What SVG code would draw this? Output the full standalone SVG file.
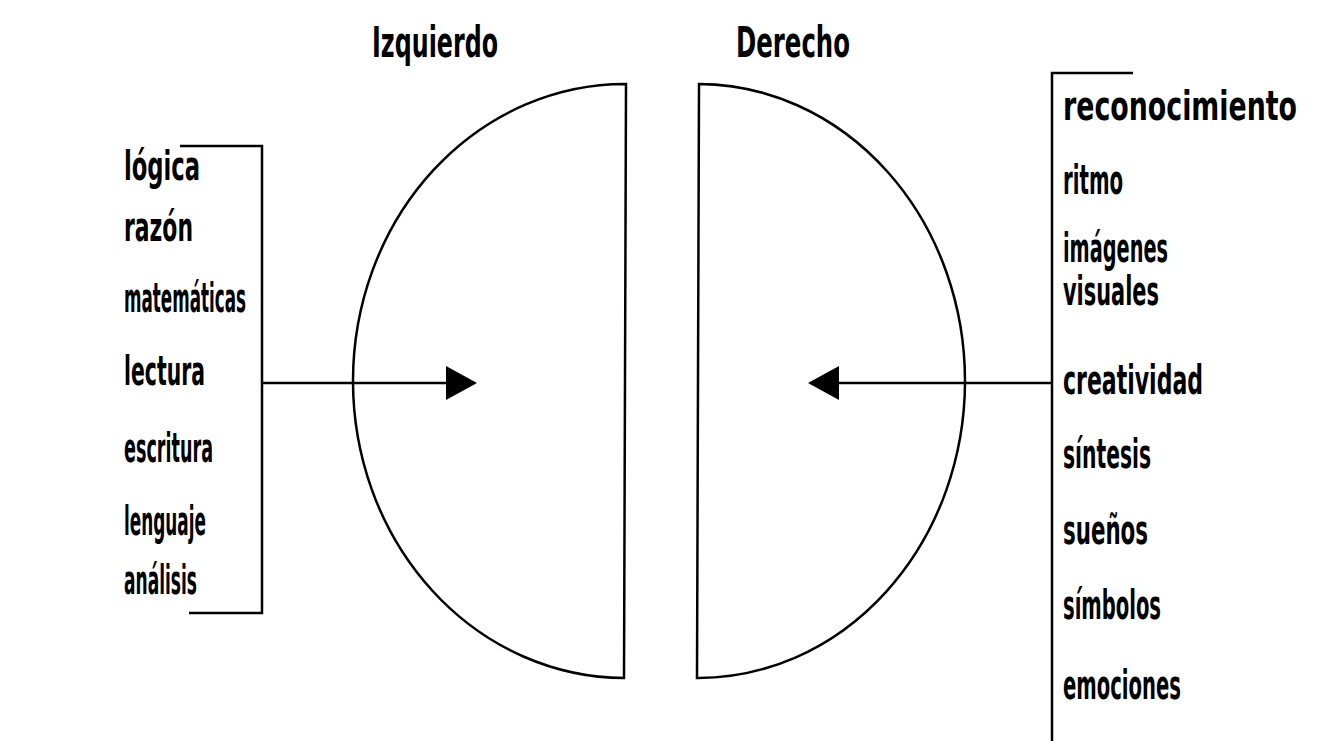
<svg xmlns="http://www.w3.org/2000/svg" width="1321" height="741" viewBox="0 0 1321 741">
<style>
.ln{fill:none;stroke:#000;stroke-width:2.5}
.t{font-family:"DejaVu Sans Condensed","Liberation Sans Narrow","Liberation Sans",sans-serif;font-weight:bold;font-size:40px;fill:#000}
.h{font-size:42px}
</style>
<rect width="1321" height="741" fill="#fff"/>
<g id="title-left"><text class="t h" x="372" y="57" textLength="126" lengthAdjust="spacingAndGlyphs">Izquierdo</text></g>
<g id="title-right"><text class="t h" x="736" y="57" textLength="114" lengthAdjust="spacingAndGlyphs">Derecho</text></g>
<g id="hemisphere-left"><path class="ln" d="M626,84 A272,297 0 0 0 624,678 Z"/></g>
<g id="hemisphere-right"><path class="ln" d="M699,84 A267,297 0 0 1 697,678 Z"/></g>
<g id="left-list">
<path class="ln" d="M180,146 H262 V613 H189"/>
<text class="t" x="124" y="180" textLength="76" lengthAdjust="spacingAndGlyphs">lógica</text>
<text class="t" x="124" y="241" textLength="69" lengthAdjust="spacingAndGlyphs">razón</text>
<text class="t" x="124" y="312" textLength="122" lengthAdjust="spacingAndGlyphs">matemáticas</text>
<text class="t" x="124" y="385" textLength="81" lengthAdjust="spacingAndGlyphs">lectura</text>
<text class="t" x="124" y="462" textLength="89" lengthAdjust="spacingAndGlyphs">escritura</text>
<text class="t" x="124" y="535" textLength="82" lengthAdjust="spacingAndGlyphs">lenguaje</text>
<text class="t" x="124" y="594" textLength="73" lengthAdjust="spacingAndGlyphs">análisis</text>
</g>
<g id="right-list">
<path class="ln" d="M1133,73 H1052 V741"/>
<text class="t" x="1063" y="120" textLength="234" lengthAdjust="spacingAndGlyphs">reconocimiento</text>
<text class="t" x="1063" y="194" textLength="60" lengthAdjust="spacingAndGlyphs">ritmo</text>
<text class="t" x="1063" y="262" textLength="105" lengthAdjust="spacingAndGlyphs">imágenes</text>
<text class="t" x="1063" y="305" textLength="96" lengthAdjust="spacingAndGlyphs">visuales</text>
<text class="t" x="1063" y="394" textLength="140" lengthAdjust="spacingAndGlyphs">creatividad</text>
<text class="t" x="1063" y="468" textLength="88" lengthAdjust="spacingAndGlyphs">síntesis</text>
<text class="t" x="1063" y="544" textLength="85" lengthAdjust="spacingAndGlyphs">sueños</text>
<text class="t" x="1063" y="619" textLength="98" lengthAdjust="spacingAndGlyphs">símbolos</text>
<text class="t" x="1063" y="699" textLength="118" lengthAdjust="spacingAndGlyphs">emociones</text>
</g>
<g id="connectors">
<line class="ln" x1="262" y1="383" x2="448" y2="383"/>
<polygon points="446,366 477,383 446,400" fill="#000"/>
<line class="ln" x1="1052" y1="383" x2="837" y2="383"/>
<polygon points="839,366 808,383 839,400" fill="#000"/>
</g>
</svg>
